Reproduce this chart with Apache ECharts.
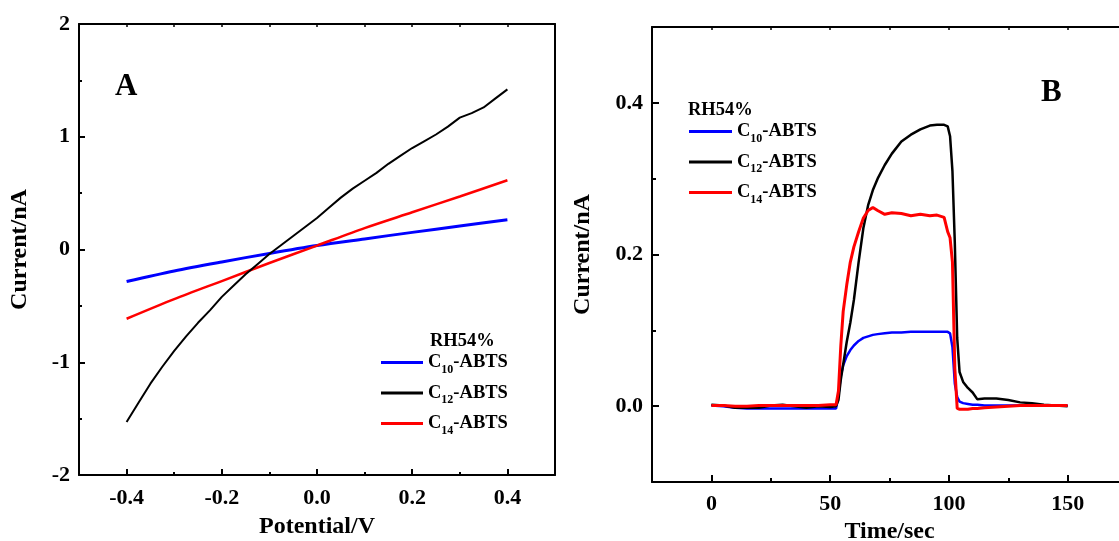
<!DOCTYPE html>
<html>
<head>
<meta charset="utf-8">
<script src="https://cdn.jsdelivr.net/npm/echarts@6/dist/echarts.min.js"></script>
<style>
html,body{margin:0;padding:0;background:#fff;}
#chart{width:1119px;height:541px;}
</style>
</head>
<body>
<div id="chart"></div>
<script>
// ---------- Data ----------
const seriesNames = ['C10-ABTS', 'C12-ABTS', 'C14-ABTS'];
const legendTitle = 'RH54%';

// Panel A : I-V curves
const potentialCoarse = [-0.4, -0.3, -0.2, -0.1, 0.0, 0.1, 0.2, 0.3, 0.4];
const currentA_C10 = [-0.284, -0.19, -0.11, -0.035, 0.035, 0.094, 0.152, 0.208, 0.263];
const currentA_C14 = [-0.614, -0.44, -0.28, -0.12, 0.035, 0.19, 0.33, 0.47, 0.614];
const potentialFine = [-0.4, -0.375, -0.35, -0.325, -0.3, -0.275, -0.25, -0.225, -0.2, -0.175, -0.15, -0.125, -0.1, -0.075, -0.05, -0.025, 0.0, 0.025, 0.05, 0.075, 0.1, 0.125, 0.15, 0.175, 0.2, 0.225, 0.25, 0.275, 0.3, 0.325, 0.35, 0.375, 0.4];
const currentA_C12 = [-1.53, -1.36, -1.19, -1.04, -0.90, -0.77, -0.65, -0.54, -0.42, -0.32, -0.22, -0.13, -0.04, 0.04, 0.12, 0.20, 0.28, 0.37, 0.46, 0.54, 0.61, 0.68, 0.76, 0.83, 0.90, 0.96, 1.02, 1.09, 1.17, 1.21, 1.26, 1.34, 1.42];

// Panel B : current vs time
const timeSec = [0, 5, 10, 15, 20, 25, 30, 35, 40, 45, 50, 52.5, 53.5, 54.5, 55.5, 57, 58.5, 60, 62, 64, 66, 68, 70, 73, 76, 80, 84, 88, 92, 95, 98, 99.5, 100.5, 101.5, 102.5, 103.5, 104.5, 106, 108, 110, 112, 115, 120, 125, 130, 135, 140, 145, 150];
const currentB_C10 = [0.001, 0.000, -0.002, -0.003, -0.003, -0.003, -0.003, -0.003, -0.003, -0.003, -0.003, -0.003, 0.015, 0.040, 0.054, 0.066, 0.074, 0.080, 0.086, 0.090, 0.092, 0.094, 0.095, 0.096, 0.097, 0.097, 0.098, 0.098, 0.098, 0.098, 0.098, 0.098, 0.096, 0.078, 0.030, 0.012, 0.006, 0.004, 0.003, 0.002, 0.002, 0.001, 0.001, 0.001, 0.001, 0.001, 0.001, 0.001, 0.001];
const currentB_C12 = [0.002, 0.001, -0.002, -0.002, -0.002, 0.001, 0.002, 0.000, -0.002, 0.000, -0.001, 0.000, 0.008, 0.035, 0.055, 0.085, 0.110, 0.140, 0.190, 0.235, 0.265, 0.285, 0.300, 0.318, 0.333, 0.349, 0.358, 0.365, 0.370, 0.371, 0.371, 0.369, 0.356, 0.310, 0.215, 0.090, 0.045, 0.032, 0.024, 0.018, 0.009, 0.010, 0.010, 0.008, 0.005, 0.004, 0.002, 0.001, 0.000];
const currentB_C14 = [0.001, 0.001, 0.000, 0.000, 0.001, 0.001, 0.001, 0.001, 0.001, 0.001, 0.002, 0.002, 0.020, 0.080, 0.125, 0.160, 0.190, 0.210, 0.230, 0.248, 0.258, 0.262, 0.258, 0.253, 0.255, 0.254, 0.251, 0.253, 0.251, 0.252, 0.249, 0.230, 0.222, 0.190, 0.050, -0.003, -0.004, -0.004, -0.004, -0.003, -0.003, -0.002, -0.001, 0.000, 0.001, 0.001, 0.001, 0.001, 0.001];

// Tick labels
const ticksA_x = [-0.4, -0.2, 0.0, 0.2, 0.4];
const ticksB_x = [0, 50, 100, 150];
const ticksB_y = [0.0, 0.2, 0.4];

const colors = { 'C10-ABTS': '#0000ff', 'C12-ABTS': '#000000', 'C14-ABTS': '#ff0000' };

// ---------- Helpers ----------
const FONT = '"Liberation Serif", "Times New Roman", serif';
const zip = (xs, ys) => xs.map((x, i) => [x, ys[i]]);
const axisLine = { show: true, onZero: false, lineStyle: { color: '#000', width: 2 } };
const noLine = { show: false, onZero: false };
const labelStyle = { color: '#000', fontFamily: FONT, fontWeight: 'bold', fontSize: 22 };
const nameStyle = { color: '#000', fontFamily: FONT, fontWeight: 'bold', fontSize: 24 };
const legendRich = {
  b: { fontFamily: FONT, fontWeight: 'bold', fontSize: 18.5, color: '#000', lineHeight: 26 },
  s: { fontFamily: FONT, fontWeight: 'bold', fontSize: 12, color: '#000', lineHeight: 16, verticalAlign: 'bottom' }
};
const legendFormatter = name => {
  const m = name.match(/^C(\d+)(-ABTS)$/);
  return '{b|C}{s|' + m[1] + '}{b|' + m[2] + '}';
};

function lineSeries(name, data, xi, yi, width, smooth) {
  return {
    type: 'line', name: name, data: data, xAxisIndex: xi, yAxisIndex: yi,
    showSymbol: false, symbol: 'none', smooth: smooth || false, animation: false,
    lineStyle: { color: colors[name], width: width }, itemStyle: { color: colors[name] },
    clip: false
  };
}

const gridA = { left: 79, top: 24, width: 476, height: 451, containLabel: false, outerBoundsMode: 'none' };
const gridB = { left: 652, top: 27, width: 475, height: 455, containLabel: false, outerBoundsMode: 'none' };

const option = {
  backgroundColor: '#fff',
  animation: false,
  grid: [
    Object.assign({}, gridA),
    Object.assign({}, gridA),
    Object.assign({}, gridB),
    Object.assign({}, gridB)
  ],
  xAxis: [
    { gridIndex: 0, type: 'value', min: -0.5, max: 0.5, interval: 0.1, position: 'bottom',
      axisLine: axisLine, splitLine: { show: false },
      axisTick: { show: true, inside: true, length: 6, customValues: ticksA_x, lineStyle: { color: '#000', width: 2 } },
      axisLabel: Object.assign({ customValues: ticksA_x, margin: 12, formatter: v => Number(v).toFixed(1) }, labelStyle),
      name: 'Potential/V', nameLocation: 'middle', nameGap: 40, nameTextStyle: nameStyle },
    { gridIndex: 0, type: 'value', min: -0.5, max: 0.5, interval: 0.1, position: 'top',
      axisLine: axisLine, splitLine: { show: false },
      axisTick: { show: true, inside: true, length: 3, lineStyle: { color: '#000', width: 1.5 } },
      axisLabel: { show: false } },
    { gridIndex: 1, type: 'value', min: -0.5, max: 0.5, interval: 0.1, position: 'bottom',
      axisLine: noLine, splitLine: { show: false },
      axisTick: { show: true, inside: true, length: 3, lineStyle: { color: '#000', width: 2 } },
      axisLabel: { show: false } },
    { gridIndex: 2, type: 'value', min: -25, max: 175, interval: 25, position: 'bottom',
      axisLine: axisLine, splitLine: { show: false },
      axisTick: { show: true, inside: true, length: 7, customValues: ticksB_x, lineStyle: { color: '#000', width: 2 } },
      axisLabel: Object.assign({ customValues: ticksB_x, margin: 11 }, labelStyle),
      name: 'Time/sec', nameLocation: 'middle', nameGap: 37, nameTextStyle: nameStyle },
    { gridIndex: 2, type: 'value', min: -25, max: 175, interval: 25, position: 'top',
      axisLine: axisLine, splitLine: { show: false },
      axisTick: { show: true, inside: true, length: 3, lineStyle: { color: '#000', width: 1.5 } },
      axisLabel: { show: false } },
    { gridIndex: 3, type: 'value', min: -25, max: 175, interval: 25, position: 'bottom',
      axisLine: noLine, splitLine: { show: false },
      axisTick: { show: true, inside: true, length: 4, lineStyle: { color: '#000', width: 2 } },
      axisLabel: { show: false } }
  ],
  yAxis: [
    { gridIndex: 0, type: 'value', min: -2, max: 2, interval: 1, position: 'left',
      axisLine: axisLine, splitLine: { show: false },
      axisTick: { show: true, inside: true, length: 6, lineStyle: { color: '#000', width: 2 } },
      minorTick: { show: true, splitNumber: 2, length: 3, lineStyle: { color: '#000', width: 2 } },
      minorSplitLine: { show: false },
      axisLabel: Object.assign({ margin: 9 }, labelStyle),
      name: 'Current/nA', nameLocation: 'middle', nameGap: 47, nameRotate: 90, nameTextStyle: nameStyle },
    { gridIndex: 0, type: 'value', min: -2, max: 2, interval: 1, position: 'right',
      axisLine: axisLine, splitLine: { show: false }, axisTick: { show: false }, axisLabel: { show: false } },
    { gridIndex: 1, type: 'value', min: -2, max: 2, interval: 1, show: false, axisLine: noLine },
    { gridIndex: 2, type: 'value', min: -0.1, max: 0.5, interval: 0.1, position: 'left',
      axisLine: axisLine, splitLine: { show: false },
      axisTick: { show: true, inside: true, length: 7, customValues: ticksB_y, lineStyle: { color: '#000', width: 2 } },
      axisLabel: Object.assign({ customValues: ticksB_y, margin: 9, formatter: v => Number(v).toFixed(1) }, labelStyle),
      name: 'Current/nA', nameLocation: 'middle', nameGap: 57, nameRotate: 90, nameTextStyle: nameStyle },
    { gridIndex: 2, type: 'value', min: -0.1, max: 0.5, interval: 0.1, position: 'right',
      axisLine: axisLine, splitLine: { show: false }, axisTick: { show: false }, axisLabel: { show: false } },
    { gridIndex: 3, type: 'value', min: -0.1, max: 0.5, interval: 0.1, position: 'left',
      axisLine: noLine, splitLine: { show: false },
      axisTick: { show: true, inside: true, length: 4, lineStyle: { color: '#000', width: 2 } },
      axisLabel: { show: false } }
  ],
  legend: [
    { data: seriesNames, left: 381, top: 353, orient: 'vertical', icon: 'rect', itemWidth: 42, itemHeight: 3,
      itemGap: 8, selectedMode: false, formatter: legendFormatter, textStyle: { rich: legendRich }, padding: 0 },
    { data: seriesNames, left: 689, top: 122, orient: 'vertical', icon: 'rect', itemWidth: 43, itemHeight: 3,
      itemGap: 8, selectedMode: false, formatter: legendFormatter, textStyle: { rich: legendRich }, padding: 0 }
  ],
  graphic: [
    { type: 'text', x: 115, y: 87, style: { text: 'A', font: 'bold 31px ' + FONT, fill: '#000', align: 'left', verticalAlign: 'middle' } },
    { type: 'text', x: 1041, y: 93, style: { text: 'B', font: 'bold 31px ' + FONT, fill: '#000', align: 'left', verticalAlign: 'middle' } },
    { type: 'text', x: 430, y: 341, style: { text: legendTitle, font: 'bold 18.5px ' + FONT, fill: '#000', align: 'left', verticalAlign: 'middle' } },
    { type: 'text', x: 688, y: 110, style: { text: legendTitle, font: 'bold 18.5px ' + FONT, fill: '#000', align: 'left', verticalAlign: 'middle' } }
  ],
  series: [
    lineSeries('C10-ABTS', zip(potentialCoarse, currentA_C10), 0, 0, 3, 0.3),
    lineSeries('C14-ABTS', zip(potentialCoarse, currentA_C14), 0, 0, 2.5, 0.3),
    lineSeries('C12-ABTS', zip(potentialFine, currentA_C12), 0, 0, 2),
    lineSeries('C10-ABTS', zip(timeSec, currentB_C10), 3, 3, 2.5),
    lineSeries('C12-ABTS', zip(timeSec, currentB_C12), 3, 3, 2.5),
    lineSeries('C14-ABTS', zip(timeSec, currentB_C14), 3, 3, 3)
  ]
};

const chart = echarts.init(document.getElementById('chart'), null, { renderer: 'canvas' });
chart.setOption(option);
</script>
</body>
</html>
